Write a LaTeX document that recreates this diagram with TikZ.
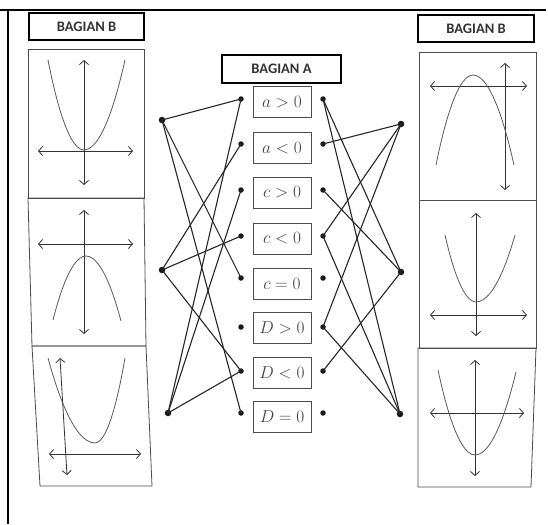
\documentclass[tikz,border=0pt]{standalone}
\usepackage{fontspec}
\newfontfamily\hdrfont{Carlito}
\usetikzlibrary{arrows.meta}
\begin{document}
\begin{tikzpicture}[x={(1pt,0pt)},y={(0pt,-1pt)},
  hdr/.style={draw=black,line width=1.6pt,inner sep=0pt,font=\hdrfont\bfseries\fontsize{14.5}{16}\selectfont,text=black!80},
  cond/.style={draw=black!70,line width=0.7pt,minimum width=58pt,minimum height=31pt,inner sep=0pt,font=\fontsize{16}{18}\selectfont,text=black!75},
  sdot/.style={circle,fill=black!90,inner sep=0pt,minimum size=5.5pt},
  bdot/.style={circle,fill=black!90,inner sep=0pt,minimum size=6.5pt},
  panel/.style={draw=black!70,line width=0.8pt},
  axis/.style={draw=black!80,line width=0.8pt,{Straight Barb[length=4pt,width=9pt]}-{Straight Barb[length=4pt,width=9pt]}},
  curve/.style={draw=black!65,line width=0.8pt},
  link/.style={draw=black!85,line width=1.1pt}]
\useasboundingbox (0,0) rectangle (548,524);
% frame
\draw[line width=1.5pt] (0,10) -- (546,10);
\draw[line width=2pt] (8,10) -- (8,524);
% headers
\node[hdr,minimum width=115pt,minimum height=27pt] (hbl) at (86.5,26.5) {BAGIAN B};
\node[hdr,minimum width=119pt,minimum height=28pt] (ha) at (281.5,69) {BAGIAN A};
\node[hdr,minimum width=116pt,minimum height=27pt] (hbr) at (476,28.5) {BAGIAN B};
% left panels
\draw[panel] (28,49) -- (144,49) -- (144,198) -- (28,198) -- cycle;
\draw[panel] (28,198) -- (144,198) -- (146,346) -- (32,346) -- cycle;
\draw[panel] (32,346) -- (146,346) -- (152,486) -- (40,486) -- cycle;
% left panel 1
\draw[axis] (84,185) -- (84,60);
\draw[axis] (38,151) -- (133,151);
\draw[curve] (48,60) parabola bend (84,150) (125,60);
% left panel 2
\draw[axis] (84,334) -- (84,210);
\draw[axis] (38,244) -- (133,244);
\draw[curve] (53,320) parabola bend (86,256) (121,321);
% left panel 3
\draw[axis] (67,475) -- (60,358);
\draw[axis] (49,454) -- (141,454);
\draw[curve] (48,358) parabola bend (95,443) (125,358);
% right panels
\draw[panel] (419,52) -- (536,52) -- (536,200) -- (419,200) -- cycle;
\draw[panel] (419,200) -- (536,200) -- (536,348) -- (419,348) -- cycle;
\draw[panel] (418,348) -- (536,348) -- (531,487) -- (418,487) -- cycle;
% right panel 1
\draw[axis] (505,190) -- (505,63);
\draw[axis] (430,86) -- (527,86);
\draw[curve] (436,165) parabola bend (473,75) (514,165);
% right panel 2
\draw[axis] (476,336) -- (476,213);
\draw[axis] (430,315) -- (527,315);
\draw[curve] (445,235) parabola bend (476,302) (515,235);
% right panel 3
\draw[axis] (475,476) -- (475,360);
\draw[axis] (430,413) -- (524,413);
\draw[curve] (438,370) parabola bend (475,455) (516,372);
% condition boxes
\node[cond] (c1) at (282,102) {$a>0$};
\node[cond] (c2) at (282,148) {$a<0$};
\node[cond] (c3) at (282,192.5) {$c>0$};
\node[cond] (c4) at (282,238.5) {$c<0$};
\node[cond] (c5) at (282,283.5) {$c=0$};
\node[cond] (c6) at (282,328) {$D>0$};
\node[cond] (c7) at (282,372.5) {$D<0$};
\node[cond] (c8) at (282,416.5) {$D=0$};
% small dots
\foreach \i/\yy in {1/99,2/144,3/190,4/236,5/278,6/327,7/371,8/413} {
  \node[sdot] (l\i) at (241,\yy) {};
  \node[sdot] (r\i) at (323,\yy) {};
}
% graph dots
\node[bdot] (L1) at (162,120) {};
\node[bdot] (L2) at (162,270) {};
\node[bdot] (L3) at (168,413) {};
\node[bdot] (R1) at (401,124) {};
\node[bdot] (R2) at (401,272) {};
\node[bdot] (R3) at (400,414) {};
% links
\draw[link] (L1.center) -- (l1.center);
\draw[link] (L1.center) -- (l5.center);
\draw[link] (L1.center) -- (l8.center);
\draw[link] (L2.center) -- (l2.center);
\draw[link] (L2.center) -- (l4.center);
\draw[link] (L2.center) -- (l7.center);
\draw[link] (L3.center) -- (l1.center);
\draw[link] (L3.center) -- (l3.center);
\draw[link] (L3.center) -- (l7.center);
\draw[link] (R1.center) -- (r2.center);
\draw[link] (R1.center) -- (r4.center);
\draw[link] (R1.center) -- (r6.center);
\draw[link] (R2.center) -- (r1.center);
\draw[link] (R2.center) -- (r3.center);
\draw[link] (R2.center) -- (r7.center);
\draw[link] (R3.center) -- (r1.center);
\draw[link] (R3.center) -- (r4.center);
\draw[link] (R3.center) -- (r6.center);
\end{tikzpicture}
\end{document}
